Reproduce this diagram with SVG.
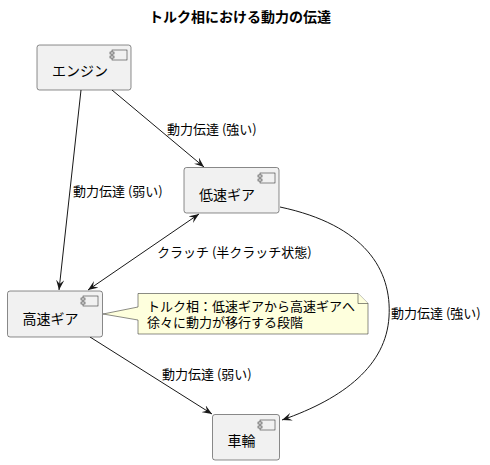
<svg xmlns="http://www.w3.org/2000/svg" width="490" height="465" viewBox="0 0 490 465">
<defs>
<style>
text{font-family:"Noto Sans CJK JP","Noto Sans",sans-serif;fill:#000}
.title{font-size:14px;font-weight:bold}
.lbl{font-size:14px}
.el{font-size:13px}
.nt{font-size:13px;font-family:"Liberation Sans","Noto Sans CJK JP",sans-serif}
.box{fill:#F1F1F1;stroke:#181818;stroke-width:0.5}
.ico{fill:#F1F1F1;stroke:#181818;stroke-width:0.5}
.edge{fill:none;stroke:#181818;stroke-width:1}
.note{fill:#FEFFDD;stroke:#181818;stroke-width:0.5}
</style>
<marker id="ah" viewBox="0 0 10 8" refX="10" refY="4" markerWidth="10" markerHeight="8" markerUnits="userSpaceOnUse" orient="auto-start-reverse">
<path d="M0,0 L10,4 L0,8 L4,4 Z" fill="#181818"/>
</marker>
<g id="icon">
<rect class="ico" x="2" y="0" width="15" height="10"/>
<rect class="ico" x="0" y="2" width="4" height="2"/>
<rect class="ico" x="0" y="6" width="4" height="2"/>
</g>
</defs>
<rect width="490" height="465" fill="#FFFFFF"/>
<text class="title" x="240" y="22" text-anchor="middle">トルク相における動力の伝達</text>

<g id="connectors">
<path class="edge" d="M112,90 L204,167" marker-end="url(#ah)"/>
<path class="edge" d="M81,90 L59,290" marker-end="url(#ah)"/>
<path class="edge" d="M199,214 L88,290" marker-start="url(#ah)" marker-end="url(#ah)"/>
<path class="edge" d="M280,207 C365,225 392,270 389,317 C386,365 345,398 282,420" marker-end="url(#ah)"/>
<path class="edge" d="M90,337 L212,414" marker-end="url(#ah)"/>
<text class="el" x="167" y="134">動力伝達 (強い)</text>
<text class="el" x="73" y="196">動力伝達 (弱い)</text>
<text class="el" x="157" y="257">クラッチ (半クラッチ状態)</text>
<text class="el" x="391" y="318">動力伝達 (強い)</text>
<text class="el" x="162" y="379">動力伝達 (弱い)</text>
</g>

<g id="engine">
<rect class="box" x="37" y="45" width="94" height="45" rx="2.5"/>
<use href="#icon" x="110" y="50"/>
<text class="lbl" x="52" y="76">エンジン</text>
</g>
<g id="low-gear">
<rect class="box" x="184" y="167.5" width="95" height="45.5" rx="2.5"/>
<use href="#icon" x="258" y="173"/>
<text class="lbl" x="199" y="200">低速ギア</text>
</g>
<g id="high-gear">
<rect class="box" x="7.5" y="291" width="95" height="46" rx="2.5"/>
<use href="#icon" x="81" y="296"/>
<text class="lbl" x="22.5" y="324">高速ギア</text>
</g>
<g id="wheel">
<rect class="box" x="212.5" y="414.5" width="67" height="45.5" rx="2.5"/>
<use href="#icon" x="258" y="420"/>
<text class="lbl" x="227.5" y="446">車輪</text>
</g>
<g id="note">
<path class="note" d="M138,293.5 L358,293.5 L368,303.5 L368,334 L138,334 L138,320 L103,314 L138,307 Z"/>
<path class="note" d="M358,293.5 L358,303.5 L368,303.5"/>
<text class="nt"><tspan x="147" y="311">トルク相：低速ギアから高速ギアへ</tspan><tspan x="147" y="327">徐々に動力が移行する段階</tspan></text>
</g>
</svg>
